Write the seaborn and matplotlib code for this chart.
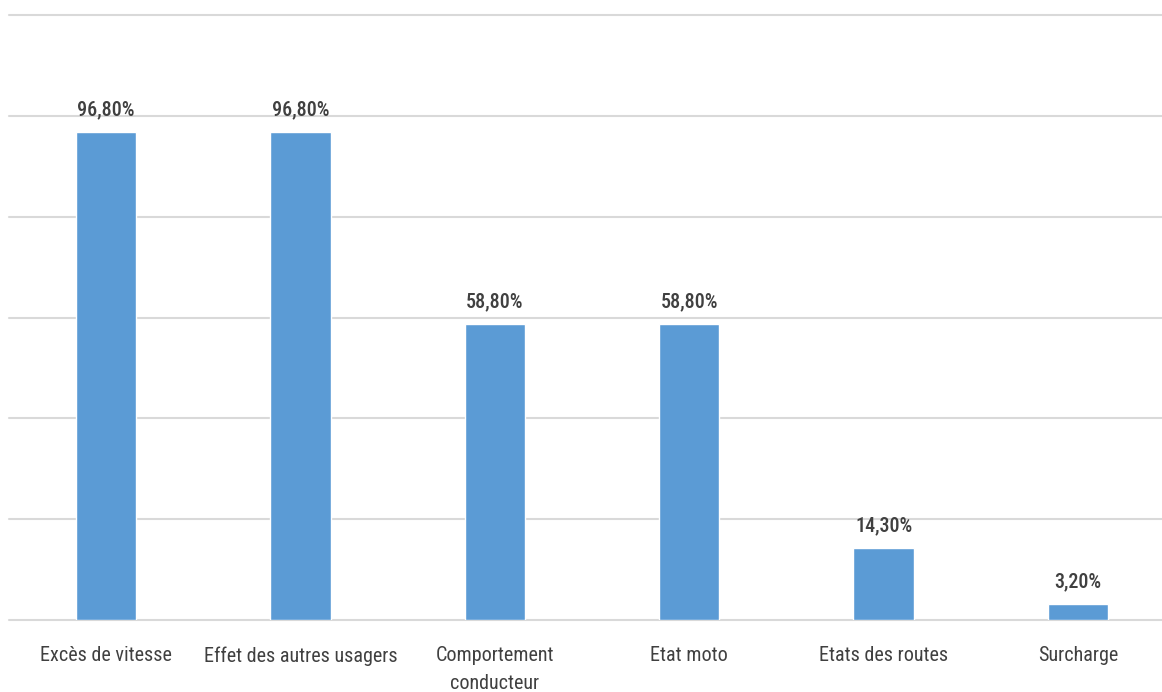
import matplotlib
matplotlib.use("Agg")
import matplotlib.pyplot as plt
import seaborn as sns
import pandas as pd

categories = ["Excès de vitesse", "Effet des autres usagers", "Comportement\nconducteur",
              "Etat moto", "Etats des routes", "Surcharge"]
values = [96.8, 96.8, 58.8, 58.8, 14.3, 3.2]
value_labels = ["96,80%", "96,80%", "58,80%", "58,80%", "14,30%", "3,20%"]

sns.set_theme(style="white")
plt.rcParams["font.family"] = ["Roboto Condensed", "Liberation Sans Narrow", "DejaVu Sans"]

df = pd.DataFrame({"cause": categories, "pct": values})

fig = plt.figure(figsize=(11.62, 6.92), dpi=100)
ax = fig.add_axes([8.8 / 1162, 72 / 692, 1166.4 / 1162, 605 / 692])

sns.barplot(data=df, x="cause", y="pct", color="#5B9BD5", saturation=1,
            width=0.31, ax=ax, zorder=3)

ax.set_ylim(0, 120)
ax.set_yticks(range(0, 121, 20))
ax.set_yticklabels([])
ax.tick_params(axis="y", length=0)
ax.tick_params(axis="x", length=0, pad=19, labelsize=14.5, labelcolor="#404040")
for lbl in ax.get_xticklabels():
    lbl.set_linespacing(1.55)
ax.grid(axis="y", color="#D9D9D9", linewidth=1.5, zorder=0)
ax.grid(axis="x", visible=False)
for gl in ax.get_ygridlines():
    gl.set_clip_on(False)
for s in ax.spines.values():
    s.set_visible(False)
ax.set_xlabel("")
ax.set_ylabel("")

for i, (v, lab) in enumerate(zip(values, value_labels)):
    ax.annotate(lab, (i, v), xytext=(0, 9), textcoords="offset points",
                ha="center", va="bottom", fontsize=14.5, color="#404040",
                fontweight="medium")

fig.savefig("out.png", dpi=100)
